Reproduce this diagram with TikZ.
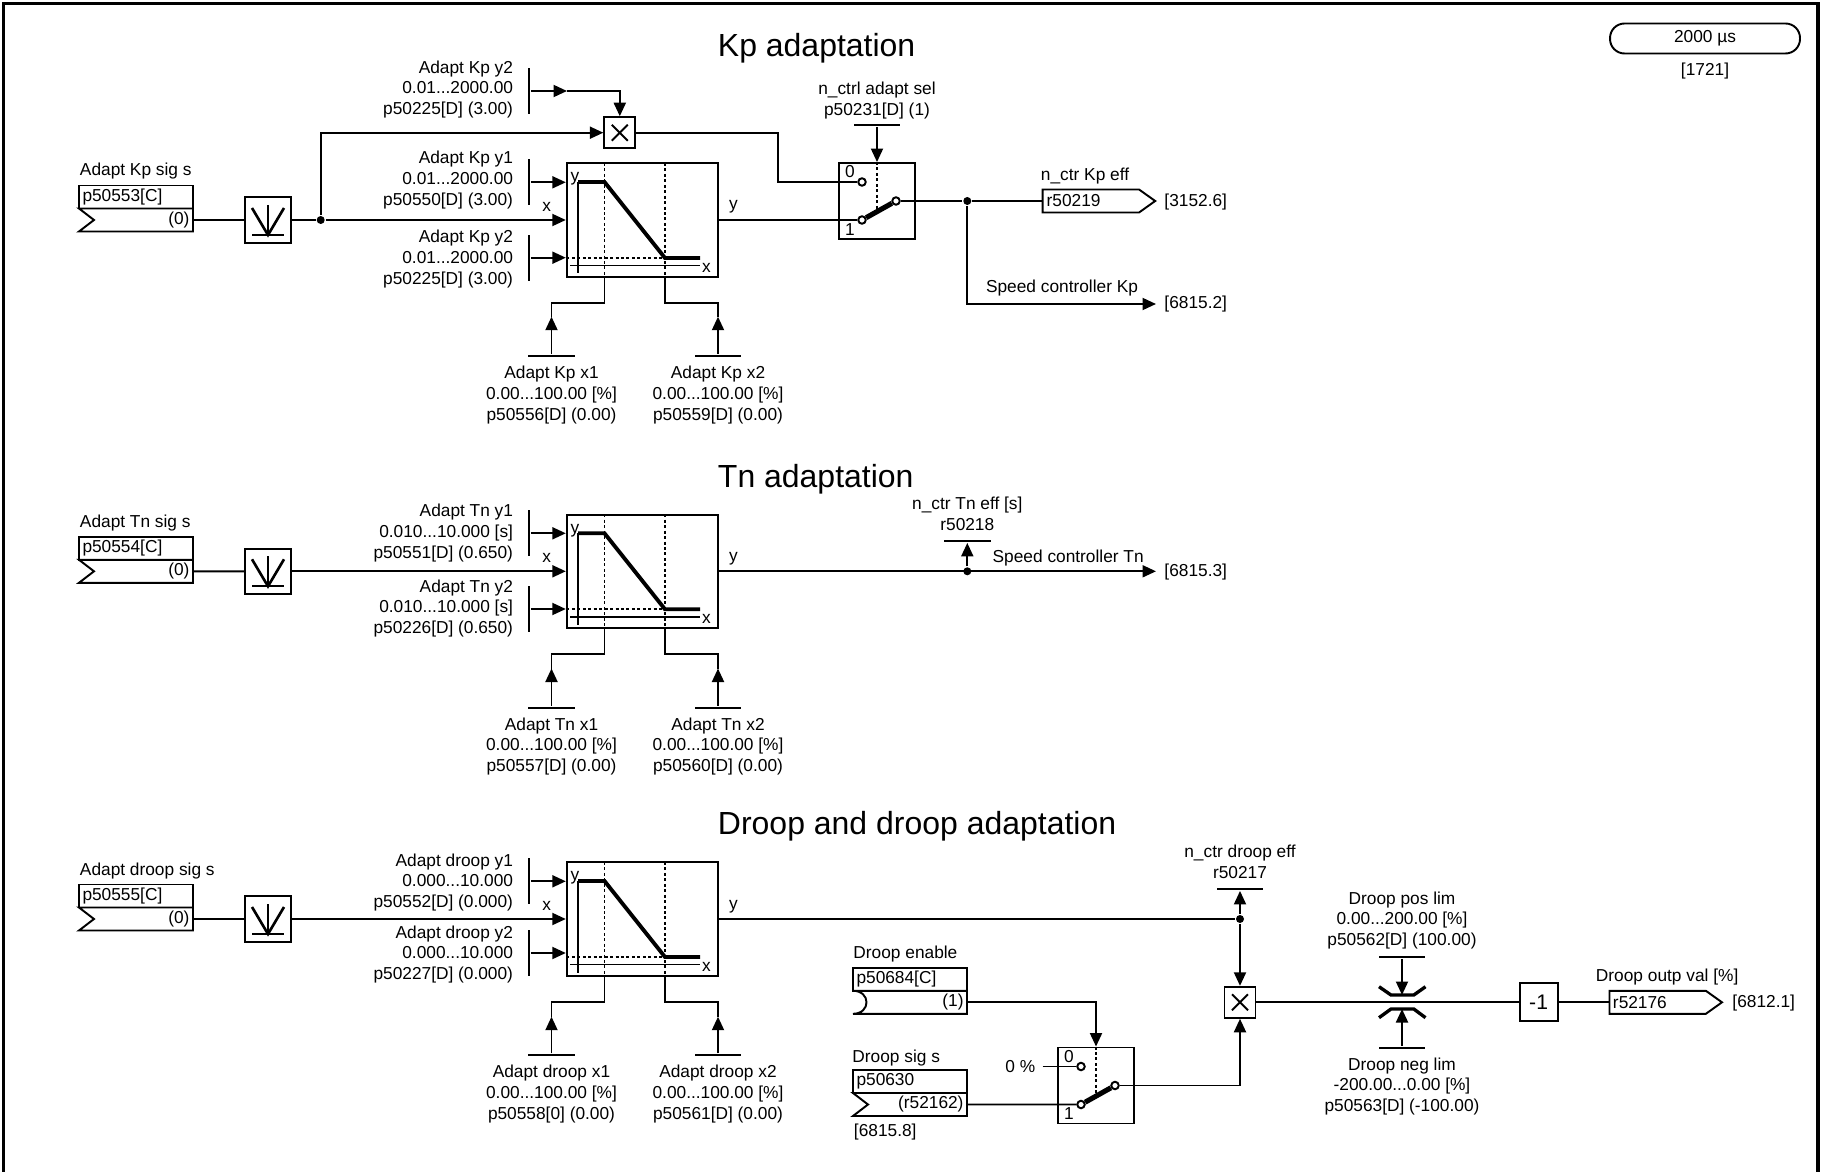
\documentclass[tikz,border=0pt]{standalone}
\usepackage{fontspec}
\setmainfont{Liberation Sans}
\usetikzlibrary{arrows.meta, positioning, calc, shapes.symbols}
\tikzset{
  vallab/.style={inner sep=0pt},
  lab/.style={inner sep=0pt, yshift=-.04cm},
  parlab/.style={inner sep=0pt, align=right, anchor=east, yshift=-.04cm},
  cenlab/.style={inner sep=0pt, align=center, yshift=-.04cm},
  heading/.style={inner sep=0pt, anchor=west, yshift=-.06cm, font=\fontsize{18.2}{22}\selectfont},
  reftag/.style={anchor=west, inner ysep=0pt, inner xsep=.15cm, yshift=-.02cm},
  parbox/.style={rectangle, draw, anchor=north west, outer sep=0pt, minimum width=2.28cm, minimum height=.46cm, inner xsep=.07cm, inner ysep=0pt, text width=2.14cm, align=left},
  sigin/.style={signal, signal to=nowhere, signal from=west, signal pointer angle=75, draw, outer sep=0pt, minimum width=2.28cm, minimum height=.46cm, inner sep=0pt, anchor=east},
  sigout/.style={signal, signal to=east, signal from=nowhere, signal pointer angle=71, draw, outer sep=0pt, minimum width=2.25cm, minimum height=.46cm, inner sep=0pt, anchor=west},
  vbar/.style={rectangle, fill=black, minimum width=1.1pt, minimum height=.92cm, inner sep=0pt},
  hbar/.style={rectangle, fill=black, minimum width=.93cm, minimum height=1.1pt, inner sep=0pt},
  dot/.style={circle, fill=black, minimum size=1.6mm, inner sep=0pt},
  pole/.style={circle, draw, fill=white, minimum size=1.5mm, inner sep=0pt},
  filt/.style={rectangle, draw, minimum size=.91cm, inner sep=0pt, path picture={
    \begin{scope}[shift={(path picture bounding box.center)}]
      \draw[line width=1.5pt] (-16,-12) -- (0,15) -- (16,-12);
      \draw (0,-15) -- (0,15);
      \draw (-16,15) -- (16,15);
    \end{scope}}},
  mul/.style={rectangle, draw, minimum size=.62cm, inner sep=0pt, path picture={
    \begin{scope}[shift={(path picture bounding box.center)}]
      \draw (-8,-8) -- (8,8);
      \draw (-8,8) -- (8,-8);
    \end{scope}}},
  charbox/.style={rectangle, draw, minimum width=3.03cm, minimum height=2.27cm, inner sep=0pt, path picture={
    \begin{scope}[shift={(path picture bounding box.center)}]
      \draw (-64.5,-38) -- (-64.5,53.5);
      \draw (-72.5,45.5) -- (57.5,45.5);
      \draw[dash pattern=on 1.7pt off 1.4pt] (-38,-57) -- (-38,57);
      \draw[dash pattern=on 1.7pt off 1.4pt] (22.5,-57) -- (22.5,57);
      \draw[dash pattern=on 1.7pt off 1.4pt] (-76,38) -- (22.5,38);
      \draw[line width=2.2pt] (-64.5,-38) -- (-38,-38) -- (22.5,38) -- (57.5,38);
    \end{scope}}},
  switchbox/.style={rectangle, draw, minimum size=1.52cm, inner sep=0pt},
  arm/.style={line width=2.9pt},
  limit/.style={line width=1.9pt},
}
\begin{document}
\begin{tikzpicture}[x=.02cm, y=-.02cm, line width=1.1pt, font=\fontsize{9.85}{11.9}\selectfont,
  sig/.style={-{Triangle[length=2.7mm,width=2.4mm]}}]
\useasboundingbox (0,0) rectangle (1825,1172);
\draw[line width=1.9pt] (3.3,1172) |- (1818,3.5) -- (1818,1172);
\node[rectangle, draw, rounded corners=.29cm, minimum width=3.8cm, minimum height=.6cm, inner sep=0pt] (tslice) at (1705,38.5) {2000 µs};
\node[vallab] (tsliceref) at (1705,70.7) {[1721]};

% Kp adaptation
\node[heading] (ktitle) at (717,45) {Kp adaptation};
\node[lab, anchor=west] (ksigname) at (79,169.3) {Adapt Kp sig s};
\node[parbox] (kpar) at (79,185.5) {p50553[C]};
\node[sigin] (ksig) at ($(kpar.south east)+(0,11.5)$) {};
\node[vallab, left=.05cm of ksig.east] (ksigval) {(0)};
\node[filt] (kfilt) at (268,220) {};
\node[dot] (kjun) at (320.7,220) {};
\node[mul] (kmul) at (619.8,132.7) {};
\node[charbox] (kchar) at (642.5,220) {};
\node[vallab] (kiny) at ($(kchar.center)+(-67.5,-41)$) {y};
\node[lab] (kinx) at ($(kchar.center)+(64,45.5)$) {x};
\node[lab] (kleftx) at (546.7,205) {x};
\node[lab] (krighty) at (733.5,205) {y};
\node[vbar] (ky0bar) at (529,91) {};
\node[vbar] (ky1bar) at (529,182.3) {};
\node[vbar] (ky2bar) at (529,257.7) {};
\node[parlab] (ky0lab) at (514,87.5) {Adapt Kp y2\\0.01...2000.00\\p50225[D] (3.00)};
\node[parlab] (ky1lab) at (514,178) {Adapt Kp y1\\0.01...2000.00\\p50550[D] (3.00)};
\node[parlab] (ky2lab) at (514,257) {Adapt Kp y2\\0.01...2000.00\\p50225[D] (3.00)};
\node[hbar] (kx1bar) at (551.5,356) {};
\node[hbar] (kx2bar) at (718,356) {};
\node[cenlab] (kx1lab) at (551.5,393) {Adapt Kp x1\\0.00...100.00 [\%]\\p50556[D] (0.00)};
\node[cenlab] (kx2lab) at (718,393) {Adapt Kp x2\\0.00...100.00 [\%]\\p50559[D] (0.00)};
\node[switchbox] (ksw) at (877,201) {};
\node[pole] (ks0) at ($(ksw.center)+(-15,-19)$) {};
\node[pole] (ks1) at ($(ksw.center)+(-15,19)$) {};
\node[pole] (ksout) at ($(ksw.center)+(19,0)$) {};
\node[vallab] (ks0lab) at ($(ksw.center)+(-27,-29)$) {0};
\node[vallab] (ks1lab) at ($(ksw.center)+(-27,28.5)$) {1};
\node[hbar] (kselbar) at (877,125) {};
\node[cenlab] (ksellab) at (877,98.5) {n\_ctrl adapt sel\\p50231[D] (1)};
\node[dot] (kjunb) at (967.3,201) {};
\node[sigout] (keff) at (1042.7,201) {};
\node[vallab, right=.06cm of keff.west] (keffval) {r50219};
\node[lab, anchor=west] (keffname) at (1040,174.3) {n\_ctr Kp eff};
\node[reftag] (krefa) at (1156,201) {[3152.6]};
\node[reftag] (krefb) at (1156,303) {[6815.2]};
\node[lab, anchor=east] (kspeed) at (1139,286) {Speed controller Kp};
\coordinate (ky0mid) at (567,91);
\coordinate (kcorner) at (778.3,132.7);
\coordinate (kx1tip) at (551.5,316.7);
\coordinate (kx2tip) at (718,316.7);
\coordinate (kx1up) at (604.5,302.7);
\coordinate (kx2up) at (665,302.7);

\draw (ksig.east) -- (kfilt.west);
\draw (kfilt.east) -- (kjun);
\draw[sig] (kjun) -- (kchar.west);
\draw[sig] (kjun) |- (kmul.west);
\draw[sig] (ky0bar) -- (ky0mid);
\draw[sig] (ky0mid) -| (kmul.north);
\draw[sig] (ky1bar) -- (ky1bar -| kchar.west);
\draw[sig] (ky2bar) -- (ky2bar -| kchar.west);
\draw[sig] (kx1bar) -- (kx1tip);
\draw[sig] (kx2bar) -- (kx2tip);
\draw (kx1tip) |- (kx1up) -- (kx1up |- kchar.south);
\draw (kx2tip) |- (kx2up) -- (kx2up |- kchar.south);
\draw (kmul.east) -- (kcorner) |- (ks0);
\draw (kchar.east) -- (ks1);
\draw[arm] (ks1) -- (ksout);
\draw[sig] (kselbar) -- (ksw.north);
\draw[dash pattern=on 1.7pt off 1.4pt] (ksw.north) -- ($(ksw.center)+(0,8)$);
\draw (ksout) -- (kjunb);
\draw (kjunb) -- (keff.west);
\draw[sig] (kjunb) |- (krefb.west);

% Tn adaptation
\node[heading] (ttitle) at (717,476.7) {Tn adaptation};
\node[lab, anchor=west] (tsigname) at (79,521.3) {Adapt Tn sig s};
\node[parbox] (tpar) at (79,536.8) {p50554[C]};
\node[sigin] (tsig) at ($(tpar.south east)+(0,11.5)$) {};
\node[vallab, left=.05cm of tsig.east] (tsigval) {(0)};
\node[filt] (tfilt) at (268,571.3) {};
\node[charbox] (tchar) at (642.5,571.3) {};
\node[vallab] (tiny) at ($(tchar.center)+(-67.5,-41)$) {y};
\node[lab] (tinx) at ($(tchar.center)+(64,45.5)$) {x};
\node[lab] (tleftx) at (546.7,556.3) {x};
\node[lab] (trighty) at (733.5,556.3) {y};
\node[vbar] (ty1bar) at (529,533.3) {};
\node[vbar] (ty2bar) at (529,609) {};
\node[parlab] (ty1lab) at (514,531) {Adapt Tn y1\\0.010...10.000 [s]\\p50551[D] (0.650)};
\node[parlab] (ty2lab) at (514,606.5) {Adapt Tn y2\\0.010...10.000 [s]\\p50226[D] (0.650)};
\node[hbar] (tx1bar) at (551.5,707.7) {};
\node[hbar] (tx2bar) at (718,707.7) {};
\node[cenlab] (tx1lab) at (551.5,744.5) {Adapt Tn x1\\0.00...100.00 [\%]\\p50557[D] (0.00)};
\node[cenlab] (tx2lab) at (718,744.5) {Adapt Tn x2\\0.00...100.00 [\%]\\p50560[D] (0.00)};
\node[dot] (tjun) at (967.3,571.3) {};
\node[hbar] (teffbar) at (967.3,541) {};
\node[cenlab] (tefflab) at (967.3,512) {n\_ctr Tn eff [s]\\r50218};
\node[lab, anchor=west] (tspeed) at (991.7,555.7) {Speed controller Tn};
\node[reftag] (tref) at (1156,571.3) {[6815.3]};
\coordinate (tx1tip) at (551.5,668.5);
\coordinate (tx2tip) at (718,668.5);
\coordinate (tx1up) at (604.5,654);
\coordinate (tx2up) at (665,654);

\draw (tsig.east) -- (tfilt.west);
\draw[sig] (tfilt.east) -- (tchar.west);
\draw[sig] (ty1bar) -- (ty1bar -| tchar.west);
\draw[sig] (ty2bar) -- (ty2bar -| tchar.west);
\draw[sig] (tx1bar) -- (tx1tip);
\draw[sig] (tx2bar) -- (tx2tip);
\draw (tx1tip) |- (tx1up) -- (tx1up |- tchar.south);
\draw (tx2tip) |- (tx2up) -- (tx2up |- tchar.south);
\draw[sig] (tchar.east) -- (tchar.east -| tref.west);
\draw[sig] (tjun) -- (teffbar);

% Droop and droop adaptation
\node[heading] (dtitle) at (717,823.3) {Droop and droop adaptation};
\node[lab, anchor=west] (dsigname) at (79,869.3) {Adapt droop sig s};
\node[parbox] (dpar) at (79,884.5) {p50555[C]};
\node[sigin] (dsig) at ($(dpar.south east)+(0,11.5)$) {};
\node[vallab, left=.05cm of dsig.east] (dsigval) {(0)};
\node[filt] (dfilt) at (268,919) {};
\node[charbox] (dchar) at (642.5,919) {};
\node[vallab] (diny) at ($(dchar.center)+(-67.5,-41)$) {y};
\node[lab] (dinx) at ($(dchar.center)+(64,45.5)$) {x};
\node[lab] (dleftx) at (546.7,904.3) {x};
\node[lab] (drighty) at (733.5,904.3) {y};
\node[vbar] (dy1bar) at (529,881.3) {};
\node[vbar] (dy2bar) at (529,953) {};
\node[parlab] (dy1lab) at (514,880.5) {Adapt droop y1\\0.000...10.000\\p50552[D] (0.000)};
\node[parlab] (dy2lab) at (514,952.5) {Adapt droop y2\\0.000...10.000\\p50227[D] (0.000)};
\node[hbar] (dx1bar) at (551.5,1055.3) {};
\node[hbar] (dx2bar) at (718,1055.3) {};
\node[cenlab] (dx1lab) at (551.5,1092) {Adapt droop x1\\0.00...100.00 [\%]\\p50558[0] (0.00)};
\node[cenlab] (dx2lab) at (718,1092) {Adapt droop x2\\0.00...100.00 [\%]\\p50561[D] (0.00)};
\node[dot] (djun) at (1240,919) {};
\node[hbar] (deffbar) at (1240,889) {};
\node[cenlab] (defflab) at (1240,859.5) {n\_ctr droop eff\\r50217};
\node[mul] (dmul) at (1240,1002.3) {};
\node[lab, anchor=west] (denname) at (852.5,952.3) {Droop enable};
\node[parbox] (denpar) at (853,967.8) {p50684[C]};
\node[rectangle, outer sep=0pt, minimum width=2.28cm, minimum height=.46cm, inner sep=0pt, anchor=north east] (dena) at (denpar.south east) {};
\node[vallab, left=.05cm of dena.east] (denval) {(1)};
\node[lab, anchor=west] (dsrcname) at (851.5,1055.7) {Droop sig s};
\node[parbox] (dsrcpar) at (853,1070) {p50630};
\node[sigin] (dsrc) at ($(dsrcpar.south east)+(0,11.5)$) {};
\node[vallab, left=.05cm of dsrc.east] (dsrcval) {(r52162)};
\node[lab, anchor=west] (dsrcref) at (853,1130) {[6815.8]};
\node[switchbox] (dsw) at (1096,1085.5) {};
\node[pole] (ds0) at ($(dsw.center)+(-15,-19)$) {};
\node[pole] (ds1) at ($(dsw.center)+(-15,19)$) {};
\node[pole] (dsout) at ($(dsw.center)+(19,0)$) {};
\node[vallab] (ds0lab) at ($(dsw.center)+(-27,-29)$) {0};
\node[vallab] (ds1lab) at ($(dsw.center)+(-27,28.5)$) {1};
\node[anchor=east, inner ysep=0pt, inner xsep=.13cm] (dzero) at (1042.7,1066.5) {0 \%};
\node[hbar] (dposbar) at (1402,957) {};
\node[hbar] (dnegbar) at (1402,1047.7) {};
\node[cenlab] (dposlab) at (1402,918.5) {Droop pos lim\\0.00...200.00 [\%]\\p50562[D] (100.00)};
\node[cenlab] (dneglab) at (1402,1084.5) {Droop neg lim\\-200.00...0.00 [\%]\\p50563[D] (-100.00)};
\node[rectangle, draw, minimum size=.76cm, inner sep=0pt, font=\fontsize{12}{14}\selectfont] (dneg) at (1538.6,1002.3) {-1};
\node[sigout] (dout) at (1609.5,1002.3) {};
\node[vallab, right=.05cm of dout.west] (doutval) {r52176};
\node[lab, anchor=west] (doutname) at (1595,975.3) {Droop outp val [\%]};
\node[reftag] (doutref) at (1724,1002.3) {[6812.1]};
\coordinate (dx1tip) at (551.5,1016.7);
\coordinate (dx2tip) at (718,1016.7);
\coordinate (dx1up) at (604.5,1002);
\coordinate (dx2up) at (665,1002);
\coordinate (dpostip) at (1402,995);
\coordinate (dnegtip) at (1402,1009);

\draw (dsig.east) -- (dfilt.west);
\draw[sig] (dfilt.east) -- (dchar.west);
\draw[sig] (dy1bar) -- (dy1bar -| dchar.west);
\draw[sig] (dy2bar) -- (dy2bar -| dchar.west);
\draw[sig] (dx1bar) -- (dx1tip);
\draw[sig] (dx2bar) -- (dx2tip);
\draw (dx1tip) |- (dx1up) -- (dx1up |- dchar.south);
\draw (dx2tip) |- (dx2up) -- (dx2up |- dchar.south);
\draw (dchar.east) -- (djun);
\draw[sig] (djun) -- (deffbar);
\draw[sig] (djun) -- (dmul.north);
\draw (dena.north west) -- (dena.north east) -- (dena.south east) -- (dena.south west) .. controls ([xshift=.36cm]dena.south west) and ([xshift=.36cm]dena.north west) .. (dena.north west);
\draw[sig] (dena.east) -| (dsw.north);
\draw[dash pattern=on 1.7pt off 1.4pt] (dsw.north) -- ($(dsw.center)+(0,8)$);
\draw (dzero.east) -- (ds0);
\draw (dsrc.east) -- (ds1);
\draw[arm] (ds1) -- (dsout);
\draw[sig] (dsout) -| (dmul.south);
\draw (dmul.east) -- (dneg.west);
\draw (dneg.east) -- (dout.west);
\draw[sig] (dposbar) -- (dpostip);
\draw[sig] (dnegbar) -- (dnegtip);
\draw[limit] (1379,986.7) -- (1391,995) -- (1413.8,995) -- (1425.5,986.7);
\draw[limit] (1379,1017.7) -- (1391,1009) -- (1413.8,1009) -- (1425.5,1017.7);
\end{tikzpicture}
\end{document}
